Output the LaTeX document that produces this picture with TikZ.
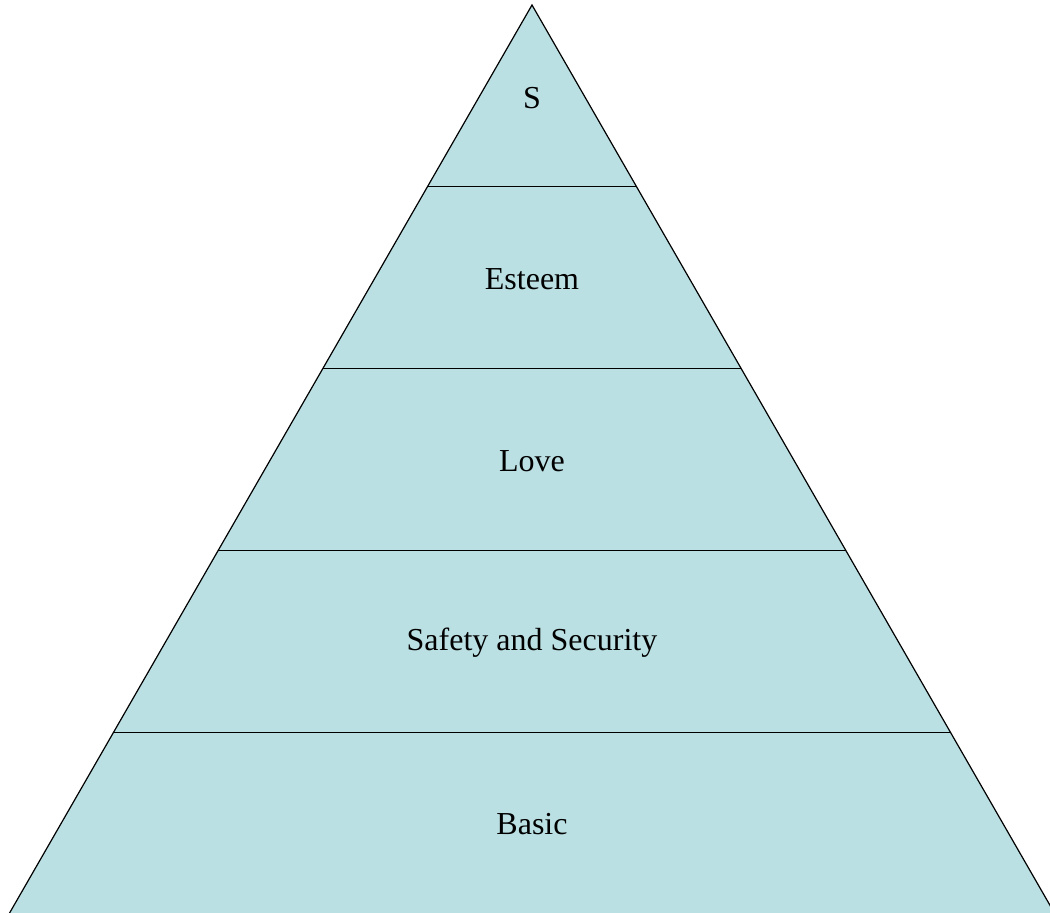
\documentclass[tikz,border=0pt]{standalone}
\usepackage{fontspec}
\setmainfont{Liberation Serif}
\usetikzlibrary{calc}

\definecolor{levelfill}{RGB}{187,224,227}

\begin{document}
\begin{tikzpicture}
  [x=0.5pt,y=-0.5pt,
  level/.style={font=\fontsize{16}{19}\selectfont},
  divider/.style={draw=black,line width=0.6pt}]
  \useasboundingbox (0,0) rectangle (1050,912);
  \coordinate (apex) at (532,5);
  \coordinate (bl) at (9,914);
  \coordinate (br) at (1055,914);
  \filldraw[fill=levelfill,draw=black,line width=0.6pt] (apex) -- (bl) -- (br) -- cycle;
  % dividing lines between the levels
  \foreach \t in {0.2,0.4,0.6,0.8}
  {
    \draw[divider] ($(apex)!\t!(bl)$) -- ($(apex)!\t!(br)$);
  }
  \node[level] (self) at (532,98) {S};
  \node[level] (esteem) at (532,279) {Esteem};
  \node[level] (love) at (532,461) {Love};
  \node[level] (safety) at (532,643) {Safety and Security};
  \node[level] (basic) at (532,824) {Basic};
\end{tikzpicture}
\end{document}
